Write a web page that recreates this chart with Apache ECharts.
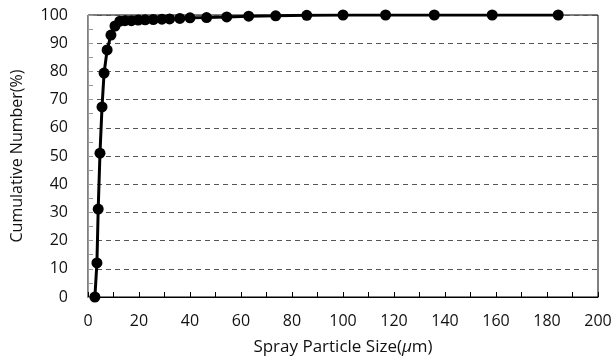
<!DOCTYPE html>
<html>
<head>
<meta charset="utf-8">
<script src="https://cdn.jsdelivr.net/npm/echarts@6/dist/echarts.min.js"></script>
<style>
  html, body { margin: 0; padding: 0; background: #fff; }
  #chart { width: 613px; height: 361px; }
</style>
</head>
<body>
<div id="chart"></div>
<script>
// particle size (um) and cumulative number (%)
const sizes = [2.7, 3.5, 4, 4.7, 5.5, 6.3, 7.5, 9, 10.6, 12.5, 14.5, 17, 19.7, 22.4, 25.6, 29, 32, 36, 40, 46.5, 54.4, 63, 73.6, 85.8, 100, 116.7, 135.8, 158.5, 184.4];
const cumulative = [0, 12.1, 31.2, 51, 67.4, 79.4, 87.6, 92.9, 96.1, 97.8, 98, 98, 98.2, 98.3, 98.4, 98.5, 98.6, 98.8, 99, 99.1, 99.3, 99.6, 99.7, 99.9, 100, 100, 100, 100, 100];

const font = "'Open Sans', 'Noto Sans', sans-serif";
const chart = echarts.init(document.getElementById("chart"));

chart.setOption({
  animation: false,
  grid: {
    left: 88,
    right: 15,
    top: 15,
    bottom: 64,
    outerBoundsMode: "none",
    show: true,
    borderColor: "#000",
    borderWidth: 1,
  },
  xAxis: {
    type: "value",
    min: 0,
    max: 200,
    interval: 20,
    name: "Spray Particle Size({i|μ}m)",
    nameLocation: "middle",
    nameGap: 42,
    nameTextStyle: {
      color: "#111",
      fontFamily: font,
      fontSize: 17,
      rich: {
        i: { fontStyle: "italic", fontFamily: font, fontSize: 17, color: "#111" },
      },
    },
    axisLine: { lineStyle: { color: "#000", width: 1 } },
    axisTick: { inside: true, length: 5, lineStyle: { color: "#000" } },
    minorTick: { show: true, splitNumber: 2, length: 5, lineStyle: { color: "#000" } },
    axisLabel: { color: "#111", fontFamily: font, fontSize: 16, margin: 16 },
    splitLine: { show: false },
  },
  yAxis: {
    type: "value",
    min: 0,
    max: 100,
    interval: 10,
    name: "Cumulative Number(%)",
    nameLocation: "middle",
    nameGap: 63,
    nameTextStyle: { color: "#111", fontFamily: font, fontSize: 16 },
    axisLine: { show: true, lineStyle: { color: "#999", width: 1 } },
    axisTick: { show: true, inside: true, length: 5, lineStyle: { color: "#999" } },
    minorTick: { show: true, splitNumber: 2, length: 5, lineStyle: { color: "#999" } },
    axisLabel: { color: "#111", fontFamily: font, fontSize: 16, margin: 20 },
    splitLine: { show: true, lineStyle: { color: "#555", type: [5, 4], width: 1 } },
  },
  series: [
    {
      type: "line",
      data: sizes.map((s, i) => [s, cumulative[i]]),
      symbol: "circle",
      symbolSize: 11,
      lineStyle: { color: "#000", width: 3 },
      itemStyle: { color: "#000" },
    },
  ],
});
</script>
</body>
</html>
